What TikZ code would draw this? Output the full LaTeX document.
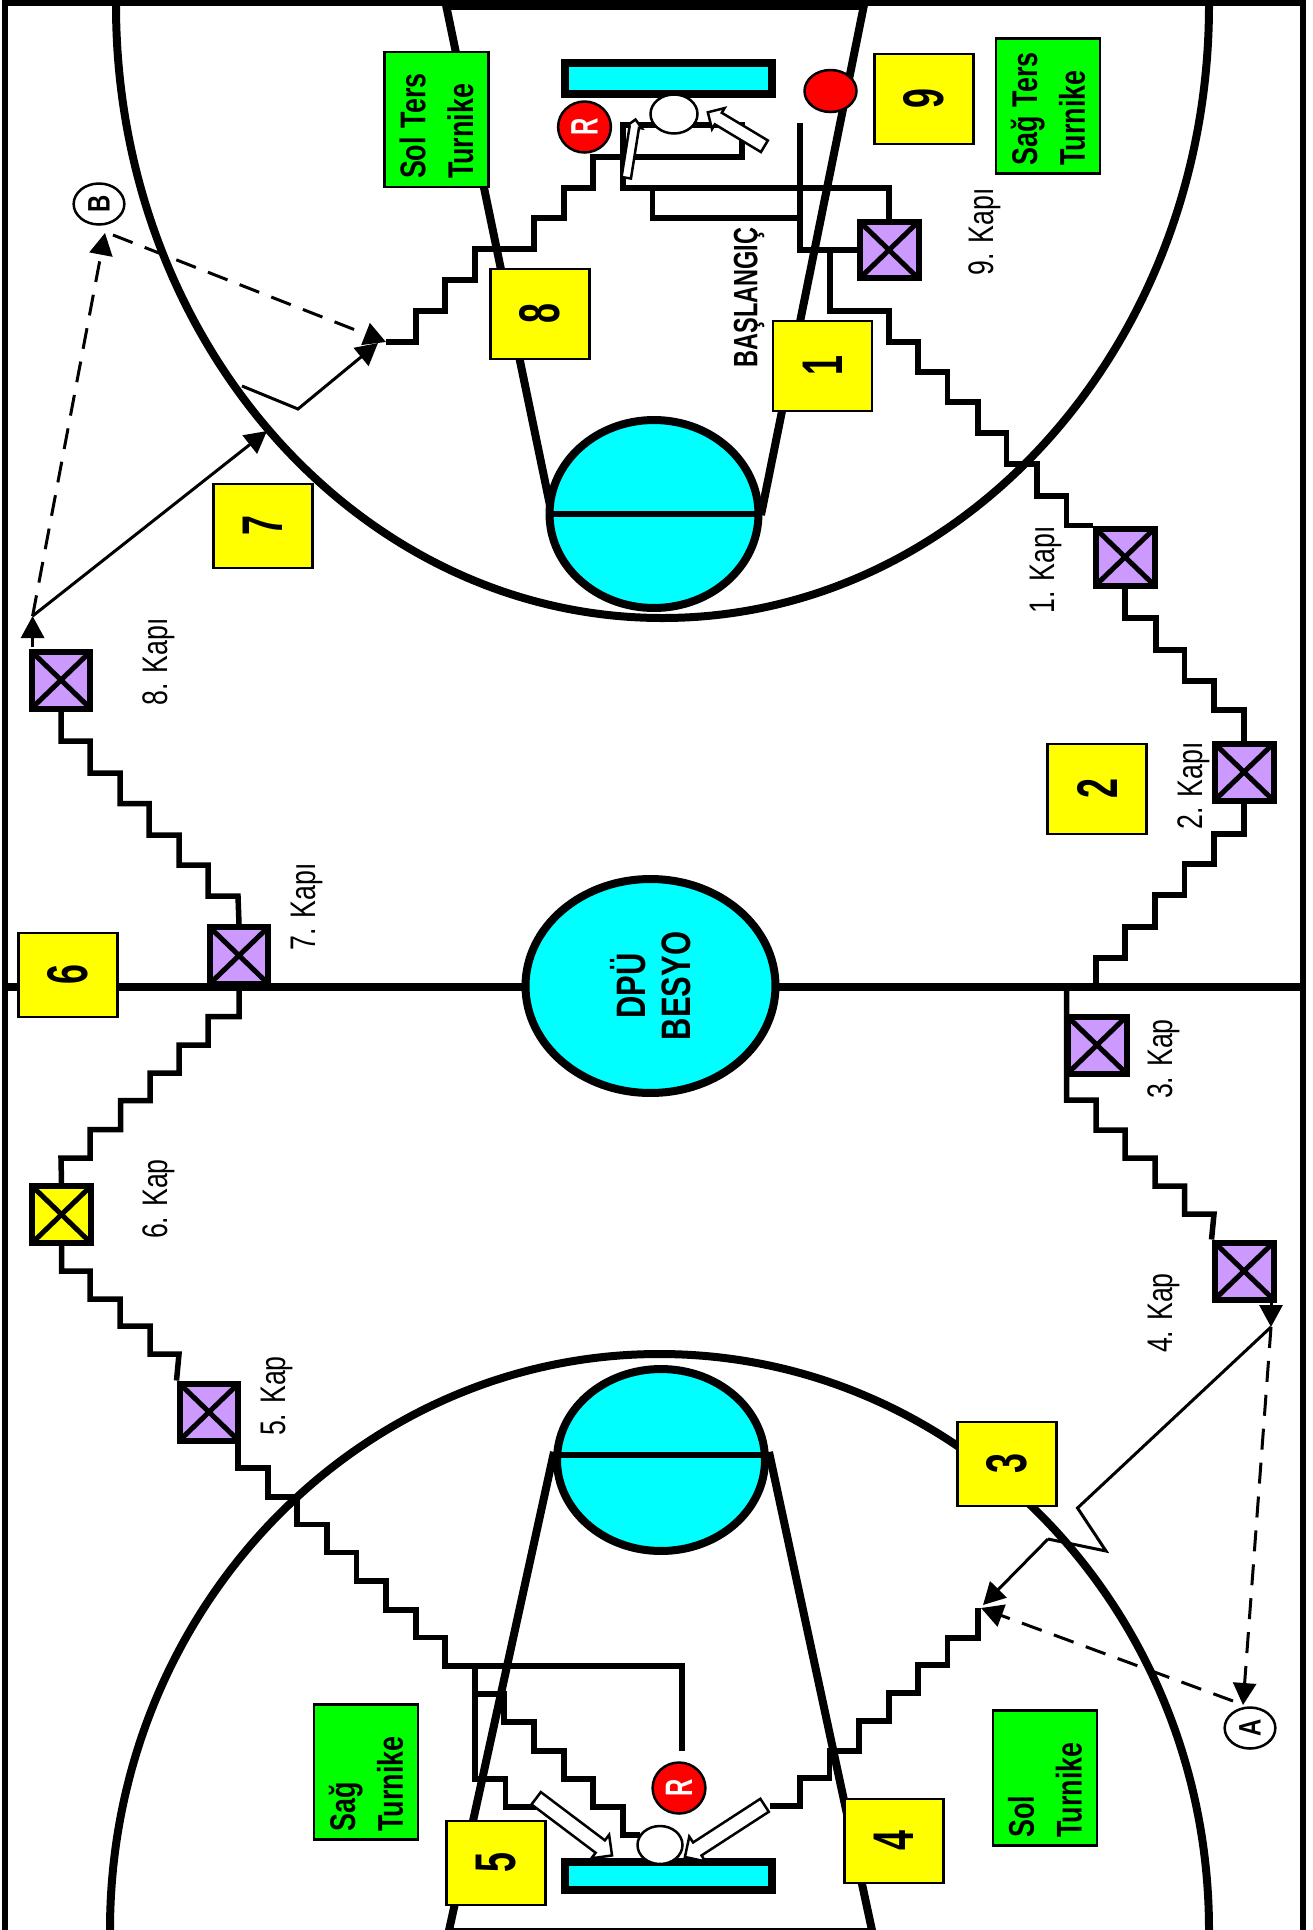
\documentclass[tikz,border=0pt]{standalone}
\usepackage{fontspec}
\setmainfont{Liberation Sans}
\usepackage{tikz}
\usetikzlibrary{
	arrows.meta,
	shapes.geometric,
	shapes.arrows,
	positioning
}
\definecolor{kapimor}{HTML}{CC99FF}
\definecolor{sari}{HTML}{FFFF00}
\definecolor{yesil}{HTML}{00FF00}
\definecolor{turkuaz}{HTML}{00FFFF}
\definecolor{kirmizi}{HTML}{FF0000}
\tikzstyle{courtline}=[line width=.16cm]
\tikzstyle{stair}=[line width=.11cm]
\tikzstyle{gate}=[draw,line width=.12cm,fill=kapimor,minimum width=1.18cm,minimum height=1.14cm,inner sep=0pt,
	path picture={\draw[line width=.1cm] (path picture bounding box.north west) -- (path picture bounding box.south east);
		\draw[line width=.1cm] (path picture bounding box.north east) -- (path picture bounding box.south west);}]
\tikzstyle{numbox}=[draw,line width=.05cm,fill=sari,rotate=90,yscale=1.6,minimum width=1.68cm,minimum height=1.24cm,inner sep=0pt,
	font=\fontsize{20.4}{24}\selectfont\bfseries]
\tikzstyle{turnike}=[draw,line width=.05cm,fill=yesil,rotate=90,yscale=1.33,text width=2.38cm,inner xsep=.16cm,inner ysep=0pt,minimum height=1.56cm,align=left,
	font=\fontsize{15.3}{20.4}\selectfont\bfseries]
\tikzstyle{kapi}=[rotate=90,yscale=1.33,inner sep=0pt,font=\fontsize{15.2}{18}\selectfont]
\tikzstyle{hakem}=[ellipse,draw,line width=.05cm,fill=kirmizi,text=white,rotate=90,yscale=1.6,inner sep=0pt,minimum width=1.02cm,minimum height=.66cm,font=\fontsize{13.6}{16}\selectfont\bfseries]
\tikzstyle{harf}=[ellipse,draw,line width=.05cm,fill=white,rotate=90,yscale=1.3,inner sep=0pt,minimum width=.82cm,minimum height=.78cm,font=\fontsize{13.6}{16}\selectfont\bfseries]
\tikzstyle{top}=[ellipse,draw,line width=.05cm,fill=white,inner sep=0pt]
\tikzstyle{pota}=[ellipse,draw,line width=.16cm,fill=turkuaz,inner sep=0pt]
\tikzstyle{ok}=[line width=.06cm,-{Triangle[length=.44cm,width=.46cm]}]
\tikzstyle{kesik}=[line width=.06cm,dash pattern=on .42cm off .26cm,-{Triangle[length=.44cm,width=.46cm]}]
\tikzstyle{beyazok}=[single arrow,draw,line width=.05cm,fill=white]

\begin{document}
\begin{tikzpicture}[x=.02cm, y=-.02cm]
	\useasboundingbox (0,0) rectangle (1312,1930);
	\draw[line width=.11cm] (5,1935) -- (5,3) -- (1303,3) -- (1303,1935);
	\draw[line width=.2cm] (443,5) -- (865,5);
	\draw[line width=.04cm] (450,1929) -- (871,1929);
	\coordinate (midL) at (8,987);
	\coordinate (midR) at (1301,987);
	\draw[courtline] (116,5) arc[start angle=180,end angle=0,x radius=546.5,y radius=613];
	\draw[courtline] (110,1930) arc[start angle=180,end angle=360,x radius=549.5,y radius=576];
	\draw[courtline] (445,0) -- (552,515);
	\draw[courtline] (865,0) -- (761,515);
	\draw[courtline] (554,1452) -- (448,1935);
	\draw[courtline] (769,1452) -- (873,1935);
	\draw[line width=.15cm] (midL) -- (midR);
	\node[pota,minimum width=4.18cm,minimum height=3.76cm] (ftT) at (654,514) {};
	\node[pota,minimum width=4.16cm,minimum height=3.64cm] (ftB) at (661,1460) {};
	\draw[stair] (ftT.west) -- (ftT.east);
	\draw[stair] ([yshift=.1cm]ftB.west) -- ([yshift=.1cm]ftB.east);
	\draw[line width=.16cm,fill=turkuaz] (565,63) rectangle (772,94);
	\draw[line width=.16cm,fill=turkuaz] (565,1862) rectangle (772,1890);
	\node[pota,rotate=90,yscale=1.33,minimum width=4.28cm,minimum height=3.76cm,align=center,
		font=\fontsize{17.6}{19.2}\selectfont\bfseries] (orta) at (650.5,986) {DPÜ\\BESYO};

	\node[gate] (g1) at (1125,557) {};
	\node[gate] (g2) at (1244,772) {};
	\node[gate] (g3) at (1097,1045) {};
	\node[gate] (g4) at (1244,1271) {};
	\node[gate] (g5) at (209,1412) {};
	\node[gate,fill=sari] (g6) at (61.5,1214.5) {};
	\node[gate] (g7) at (239,955.5) {};
	\node[gate] (g8) at (61,680) {};
	\node[gate] (g9) at (889,250) {};

	\coordinate (bas) at (830,249);
	\coordinate (m2) at (1096,987);
	\coordinate (m3) at (1066.5,987);
	\coordinate (solUc) at (978,1608);
	\coordinate (sagUc) at (386,342);
	\coordinate (ustL) at (800,123);
	\coordinate (altR) at (682,1751);
	\coordinate (altA) at (475,1663);
	\coordinate (altB) at (475,1694);
	\draw[stair] (bas) |- (889,311) |- (918,342) |- (947.5,372) |- (978,402) |- (1006.5,433) |- (1037,464) |- (1066.5,496) |- (g1.north west);
	\draw[stair] (g1.south) |- (1156,618) |- (1184.5,650) |- (1214,681) |- (1244,710) -- (g2.north);
	\draw[stair] (g2.south) |- (1214,834) |- (1184.5,864) |- (1155,895) |- (1125,927) |- (1096,958) -- (m2);
	\draw[stair] (m3) |- (1096,1100) |- (1125,1130) |- (1155,1158) |- (1184.5,1186) |- (1214,1214) -- (g4.north west);
	\draw[stair] (solUc) |- (947.5,1638) |- (918,1665) |- (889,1693) |- (859,1721) |- (829.5,1751) |- (800,1778) |- (770,1806);
	\draw[stair] (g8.south) |- (90,741) |- (120,773) |- (149,803.5) |- (179,835) |- (208,865) |- (238,896) -- (g7.north);
	\draw[stair] (g7.south) |- (208,1016.5) |- (179,1045) |- (150,1073) |- (120.5,1100.5) |- (90,1129.6) |- (61,1158) -- (g6.north);
	\draw[stair] (g6.south) |- (90,1271) |- (120,1299) |- (150,1326) |- (179,1354) -- (g5.north west);
	\draw[stair] (238,1442) |- (268,1468) |- (297,1497) |- (327,1524.5) |- (356.5,1552.5) |- (386,1581) |- (416,1610) |- (445,1637.5) |- (682,1666) -- (altR);
	\draw[stair] (altA) |- (505.5,1779) |- (535.6,1807);
	\draw[stair] (altB) -- (504,1694) |- (534,1722) |- (564,1751) |- (593,1779) |- (623,1807) |- (640,1835);
	\draw[stair] (sagUc) -| (416,311) -| (445,280) -| (475,249) -| (534,218) -| (564,188) -| (593,157) -| (742,125) -- (623,125) -- (623,188) -| (g9.north);
	\draw[stair] (652.7,188) -- (652.7,218) -- (800,218);
	\draw[stair] (ustL) |- (g9.west);

	\coordinate (ok8) at (32.6,647);
	\coordinate (uc8) at (32.6,616);
	\coordinate (kir7A) at (267,431);
	\coordinate (kir7B) at (242,386);
	\coordinate (kir7C) at (298,409);
	\coordinate (ok4) at (1271,1301);
	\coordinate (uc4) at (1271,1327);
	\coordinate (kir3A) at (1077.5,1508);
	\coordinate (kir3B) at (1106,1551);
	\coordinate (kir3C) at (1048,1539);
	\coordinate (bGiris) at (105,233);
	\coordinate (bCikis) at (113,235);
	\coordinate (aGiris) at (1243,1705);
	\coordinate (aCikis) at (1233,1701);
	\coordinate (solGiris) at (983,1605);
	\coordinate (solKesik) at (981,1608);
	\coordinate (sagGiris) at (378,343);
	\draw[ok] (ok8) -- (uc8);
	\draw[ok] (uc8) -- (kir7A);
	\draw[ok] (kir7B) -- (kir7C) -- (sagGiris);
	\draw[kesik] (uc8) -- (bGiris);
	\draw[kesik] (bCikis) -- (sagUc);
	\draw[ok] (ok4) -- (uc4);
	\draw[ok,-] (uc4) -- (kir3A) -- (kir3B) -- (kir3C);
	\draw[ok] (kir3C) -- (solGiris);
	\draw[kesik] (uc4) -- (aGiris);
	\draw[kesik] (aCikis) -- (solKesik);

	\node[top,minimum width=.94cm,minimum height=.78cm] (topU) at (674,114) {};
	\node[top,minimum width=.9cm,minimum height=.76cm] (topA) at (660,1845) {};
	\node[top,fill=kirmizi,minimum width=1.04cm,minimum height=.84cm] (hedef) at (830.5,91) {};
	\node[hakem] (rU) at (584.5,127) {R};
	\node[hakem] (rA) at (679,1788) {R};
	\node[harf] (noktaB) at (99,204) {\raisebox{-.06cm}{B}};
	\node[harf] (noktaA) at (1250,1728) {\raisebox{-.06cm}{A}};

	\node[beyazok,rotate=81,minimum height=1.18cm,inner sep=.07cm,single arrow head extend=.06cm] (okU1) at (630.5,151) {};
	\node[beyazok,rotate=149,minimum height=1.32cm,inner sep=.11cm,single arrow head extend=.11cm] (okU2) at (739,131) {};
	\node[beyazok,rotate=-37,minimum height=1.9cm,inner sep=.13cm,single arrow head extend=.14cm] (okA1) at (571,1824.5) {};
	\node[beyazok,rotate=213,minimum height=1.9cm,inner sep=.13cm,single arrow head extend=.14cm] (okA2) at (728,1829) {};

	\node[numbox,minimum width=1.8cm] (n1) at (822.5,366) {1};
	\node[numbox,minimum width=1.8cm] (n2) at (1097,789) {2};
	\node[numbox] (n3) at (1007,1464) {3};
	\node[numbox] (n4) at (894,1841) {4};
	\node[numbox] (n5) at (496,1863) {5};
	\node[numbox] (n6) at (68,975) {6};
	\node[numbox] (n7) at (263,526) {7};
	\node[numbox,minimum width=1.8cm] (n8) at (540,314) {8};
	\node[numbox,minimum width=1.8cm] (n9) at (924,99) {9};

	\node[turnike] (t1) at (436.5,119.5) {Sol Ters\\Turnike};
	\node[turnike] (t2) at (1048,106) {Sağ Ters\\Turnike};
	\node[turnike] (t3) at (366,1772) {Sağ\\Turnike};
	\node[turnike] (t4) at (1045,1778) {Sol\\Turnike};

	\node[kapi] (k1) at (1046,570) {1. Kapı};
	\node[kapi] (k2) at (1194,786) {2. Kapı};
	\node[kapi] (k3) at (1164,1059) {3. Kap};
	\node[kapi] (k4) at (1164,1313) {4. Kap};
	\node[kapi] (k5) at (276.5,1396) {5. Kap};
	\node[kapi] (k6) at (158.5,1199) {6. Kap};
	\node[kapi] (k7) at (306.5,907) {7. Kapı};
	\node[kapi] (k8) at (158.5,662) {8. Kapı};
	\node[kapi] (k9) at (985,232) {9. Kapı};
	\node[kapi,yscale=1.08,font=\fontsize{13.4}{16}\selectfont\bfseries] (baslangic) at (749,297.5) {BAŞLANGIÇ};
\end{tikzpicture}
\end{document}
